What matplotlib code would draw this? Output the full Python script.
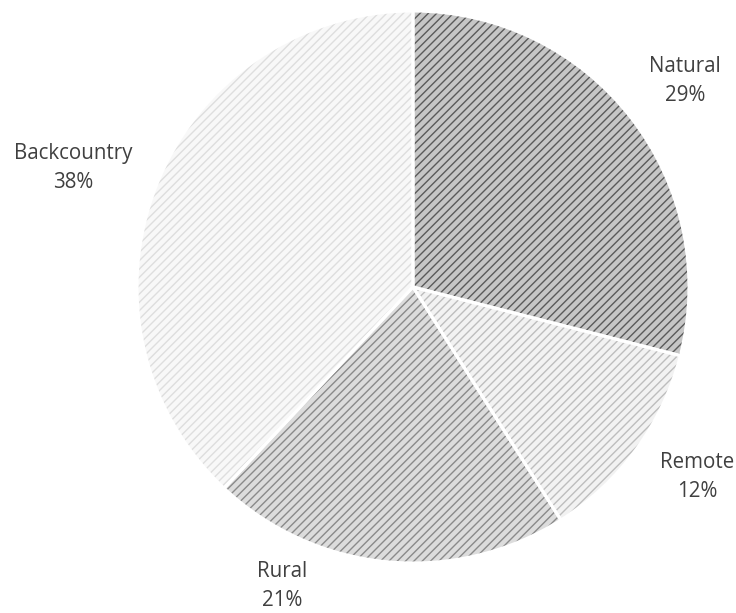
import matplotlib.pyplot as plt

# Share of land classes
categories = ['Natural', 'Remote', 'Rural', 'Backcountry']
shares = [29, 12, 21, 38]
labels = ['Natural\n29%', 'Remote\n12%', 'Rural\n21%', 'Backcountry\n38%']

# Fill / hatch line colours per slice
face_colors = ['#c6c6c6', '#f2f2f2', '#dcdcdc', '#f8f8f8']
hatch_colors = ['#5a5a5a', '#bdbdbd', '#8a8a8a', '#dedede']

# label centres in pie radius units (placed like the original)
label_pos = [(0.986, 0.746), (1.029, -0.688), (-0.475, -1.083), (-1.232, 0.431)]

plt.rcParams['font.family'] = ['Open Sans', 'DejaVu Sans']
plt.rcParams['hatch.linewidth'] = 1.0

fig = plt.figure(figsize=(7.36, 6.13), dpi=100)
r_px = 276
cx, cy = 413, 287
ax = fig.add_axes([(cx - r_px) / 736, (613 - cy - r_px) / 613, 2 * r_px / 736, 2 * r_px / 613])

# base fill
ax.pie(shares, colors=face_colors, startangle=90, counterclock=False,
       wedgeprops=dict(linewidth=0))
# hatch overlay
wedges, _ = ax.pie(shares, startangle=90, counterclock=False,
                   wedgeprops=dict(linewidth=0, fill=False))
for w, hc in zip(wedges, hatch_colors):
    w.set_hatch('////')
    w.set_edgecolor(hc)
    w.set_linewidth(0)
# white borders
ax.pie(shares, startangle=90, counterclock=False,
       wedgeprops=dict(linewidth=2.2, edgecolor='white', fill=False))

for lab, (x, y) in zip(labels, label_pos):
    ax.text(x, y, lab, ha='center', va='center', fontsize=14.8,
            color='#404040', linespacing=1.5)

ax.set_xlim(-1, 1)
ax.set_ylim(-1, 1)
ax.set_aspect('auto')
ax.axis('off')

fig.savefig('out.png', dpi=100)
